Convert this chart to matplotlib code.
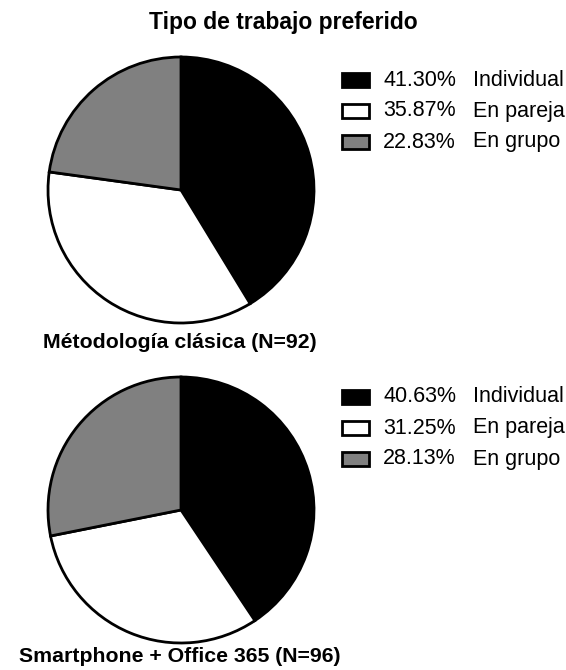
import matplotlib
matplotlib.use("Agg")
import matplotlib.pyplot as plt
from matplotlib.patches import Rectangle

plt.rcParams['font.family'] = ['Liberation Sans', 'DejaVu Sans']

categories = ["Individual", "En pareja", "En grupo"]
colors = ["#000000", "#ffffff", "#808080"]
group_titles = ["Métodología clásica (N=92)", "Smartphone + Office 365 (N=96)"]
values_clasica = [41.30, 35.87, 22.83]
values_smartphone = [40.63, 31.25, 28.13]
title = "Tipo de trabajo preferido"

W, H = 566, 670
fig = plt.figure(figsize=(W / 100, H / 100), dpi=100)
ax = fig.add_axes([0, 0, 1, 1])

panels = [
    (values_clasica, group_titles[0], 190, 80, 343),
    (values_smartphone, group_titles[1], 510, 397, 657),
]

for vals, gtitle, cy, ly, ty in panels:
    ax.pie(vals, colors=colors, startangle=90, counterclock=False,
           center=(181, H - cy), radius=133,
           wedgeprops=dict(edgecolor="black", linewidth=2))
    for i, (cat, v) in enumerate(zip(categories, vals)):
        y = H - (ly + i * 31)
        ax.add_patch(Rectangle((342, y - 7), 27, 14, facecolor=colors[i],
                               edgecolor="black", linewidth=2))
        ax.text(383, y, f"{v:.2f}%", fontsize=15.5, va="center", ha="left")
        ax.text(473, y, cat, fontsize=15.5, va="center", ha="left")
    ax.text(180, H - ty, gtitle, fontsize=15.3, fontweight="bold",
            ha="center", va="center")

ax.text(283, H - 22, title, fontsize=16.5, fontweight="bold",
        ha="center", va="center")

ax.set_xlim(0, W)
ax.set_ylim(0, H)
ax.set_aspect("auto")
ax.axis("off")

fig.savefig("out.png", dpi=100)
